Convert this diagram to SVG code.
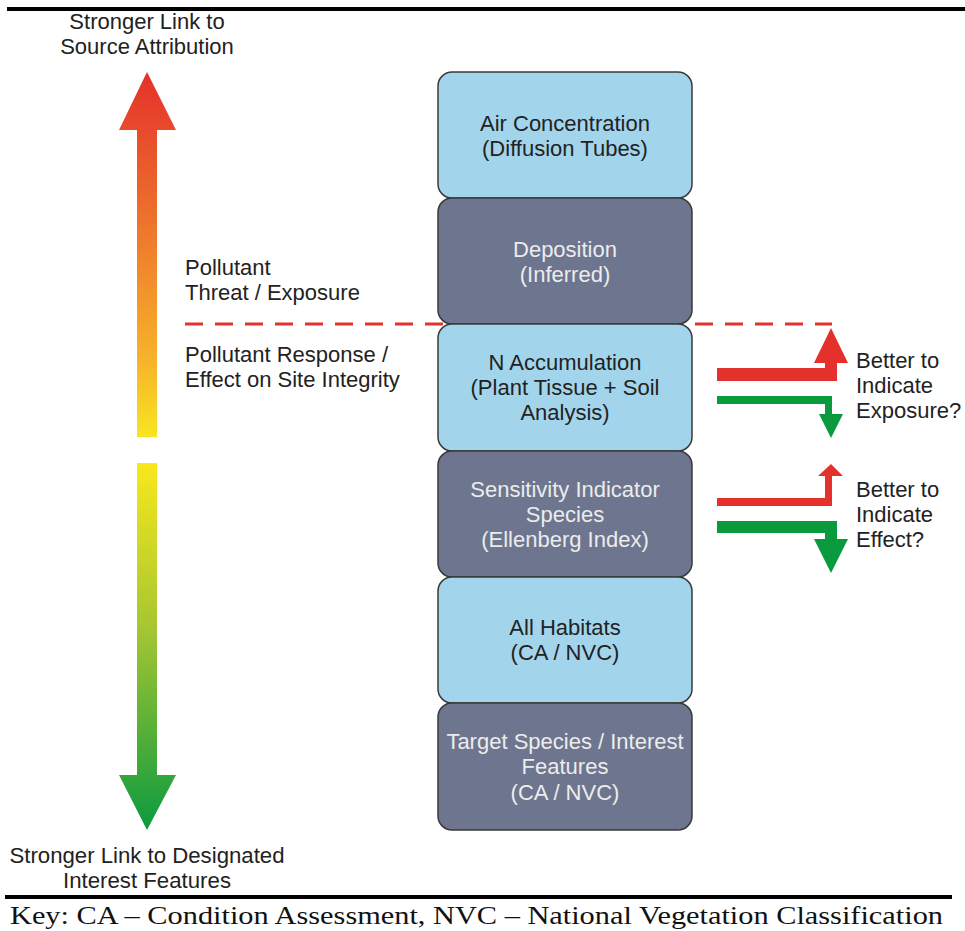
<svg xmlns="http://www.w3.org/2000/svg" width="965" height="931" viewBox="0 0 965 931">
<defs>
<linearGradient id="gUp" x1="0" y1="72" x2="0" y2="437" gradientUnits="userSpaceOnUse">
<stop offset="0" stop-color="#e4312b"/>
<stop offset="0.45" stop-color="#ee7a2c"/>
<stop offset="0.8" stop-color="#f7b52a"/>
<stop offset="1" stop-color="#f8e520"/>
</linearGradient>
<linearGradient id="gDown" x1="0" y1="463" x2="0" y2="830" gradientUnits="userSpaceOnUse">
<stop offset="0" stop-color="#f8e81c"/>
<stop offset="0.45" stop-color="#a6c632"/>
<stop offset="1" stop-color="#0a9a3e"/>
</linearGradient>
<style>
.t{font-family:"Liberation Sans",Arial,sans-serif;font-size:22px;fill:#222}
.c{text-anchor:middle}
.w{fill:#ececec}
.lb{fill:#a2d5ec;stroke:#3a3a3a;stroke-width:1.5}
.db{fill:#6d768e;stroke:#3a3a3a;stroke-width:1.5}
.red{fill:#e4312b}
.grn{fill:#0a9a3e}
</style>
</defs>
<rect width="965" height="931" fill="#fff"/>
<line x1="7" y1="9" x2="965" y2="9" stroke="#000" stroke-width="4"/>
<line x1="5" y1="897" x2="952" y2="897" stroke="#000" stroke-width="4"/>

<g id="axis-up">
<polygon points="147,72 176,130 157,130 157,437 137,437 137,130 119,130" fill="url(#gUp)"/>
<text class="t c" x="147" y="29">Stronger Link to</text>
<text class="t c" x="147" y="54">Source Attribution</text>
</g>
<g id="axis-down">
<polygon points="137,463 157,463 157,775 176,775 147,830 119,775 137,775" fill="url(#gDown)"/>
<text class="t c" x="147" y="863" textLength="275" lengthAdjust="spacingAndGlyphs">Stronger Link to Designated</text>
<text class="t c" x="147" y="888" textLength="168" lengthAdjust="spacingAndGlyphs">Interest Features</text>
</g>

<g id="labels-left">
<text class="t" x="185" y="275">Pollutant</text>
<text class="t" x="185" y="300">Threat / Exposure</text>
<text class="t" x="185" y="362">Pollutant Response /</text>
<text class="t" x="185" y="387">Effect on Site Integrity</text>
</g>

<g id="connectors">
<line x1="185" y1="324" x2="832" y2="324" stroke="#e4312b" stroke-width="3" stroke-dasharray="18,12"/>
</g>

<g id="box1">
<rect class="lb" x="438" y="72" width="254" height="126" rx="14"/>
<text class="t c" x="565" y="131">Air Concentration</text>
<text class="t c" x="565" y="156">(Diffusion Tubes)</text>
</g>
<g id="box2">
<rect class="db" x="438" y="198" width="254" height="126" rx="14"/>
<text class="t c w" x="565" y="257">Deposition</text>
<text class="t c w" x="565" y="282">(Inferred)</text>
</g>
<g id="box3">
<rect class="lb" x="438" y="324" width="254" height="127" rx="14"/>
<text class="t c" x="565" y="370">N Accumulation</text>
<text class="t c" x="565" y="395">(Plant Tissue + Soil</text>
<text class="t c" x="565" y="420">Analysis)</text>
</g>
<g id="box4">
<rect class="db" x="438" y="451" width="254" height="126" rx="14"/>
<text class="t c w" x="565" y="497">Sensitivity Indicator</text>
<text class="t c w" x="565" y="522">Species</text>
<text class="t c w" x="565" y="547">(Ellenberg Index)</text>
</g>
<g id="box5">
<rect class="lb" x="438" y="577" width="254" height="126" rx="14"/>
<text class="t c" x="565" y="635">All Habitats</text>
<text class="t c" x="565" y="660">(CA / NVC)</text>
</g>
<g id="box6">
<rect class="db" x="438" y="703" width="254" height="127" rx="14"/>
<text class="t c w" x="565" y="749">Target Species / Interest</text>
<text class="t c w" x="565" y="774">Features</text>
<text class="t c w" x="565" y="800">(CA / NVC)</text>
</g>

<g id="exposure-arrows">
<polygon class="red" points="717,368 825,368 825,363 814,363 831,328 848,363 837,363 837,381 717,381"/>
<polygon class="grn" points="717,396 832,396 832,414 843,414 831,438 819,414 825,414 825,404 717,404"/>
<text class="t" x="856" y="368">Better to</text>
<text class="t" x="856" y="393">Indicate</text>
<text class="t" x="856" y="418">Exposure?</text>
</g>
<g id="effect-arrows">
<polygon class="red" points="717,498 825,498 825,476 818,476 831,464 843,476 832,476 832,506 717,506"/>
<polygon class="grn" points="717,521 837,521 837,539 848,539 831,573 814,539 825,539 825,533 717,533"/>
<text class="t" x="856" y="497">Better to</text>
<text class="t" x="856" y="522">Indicate</text>
<text class="t" x="856" y="547">Effect?</text>
</g>

<text x="10" y="924" font-family="'Liberation Serif','Times New Roman',serif" font-size="26" fill="#111" textLength="933" lengthAdjust="spacingAndGlyphs">Key: CA – Condition Assessment, NVC – National Vegetation Classification</text>
</svg>
